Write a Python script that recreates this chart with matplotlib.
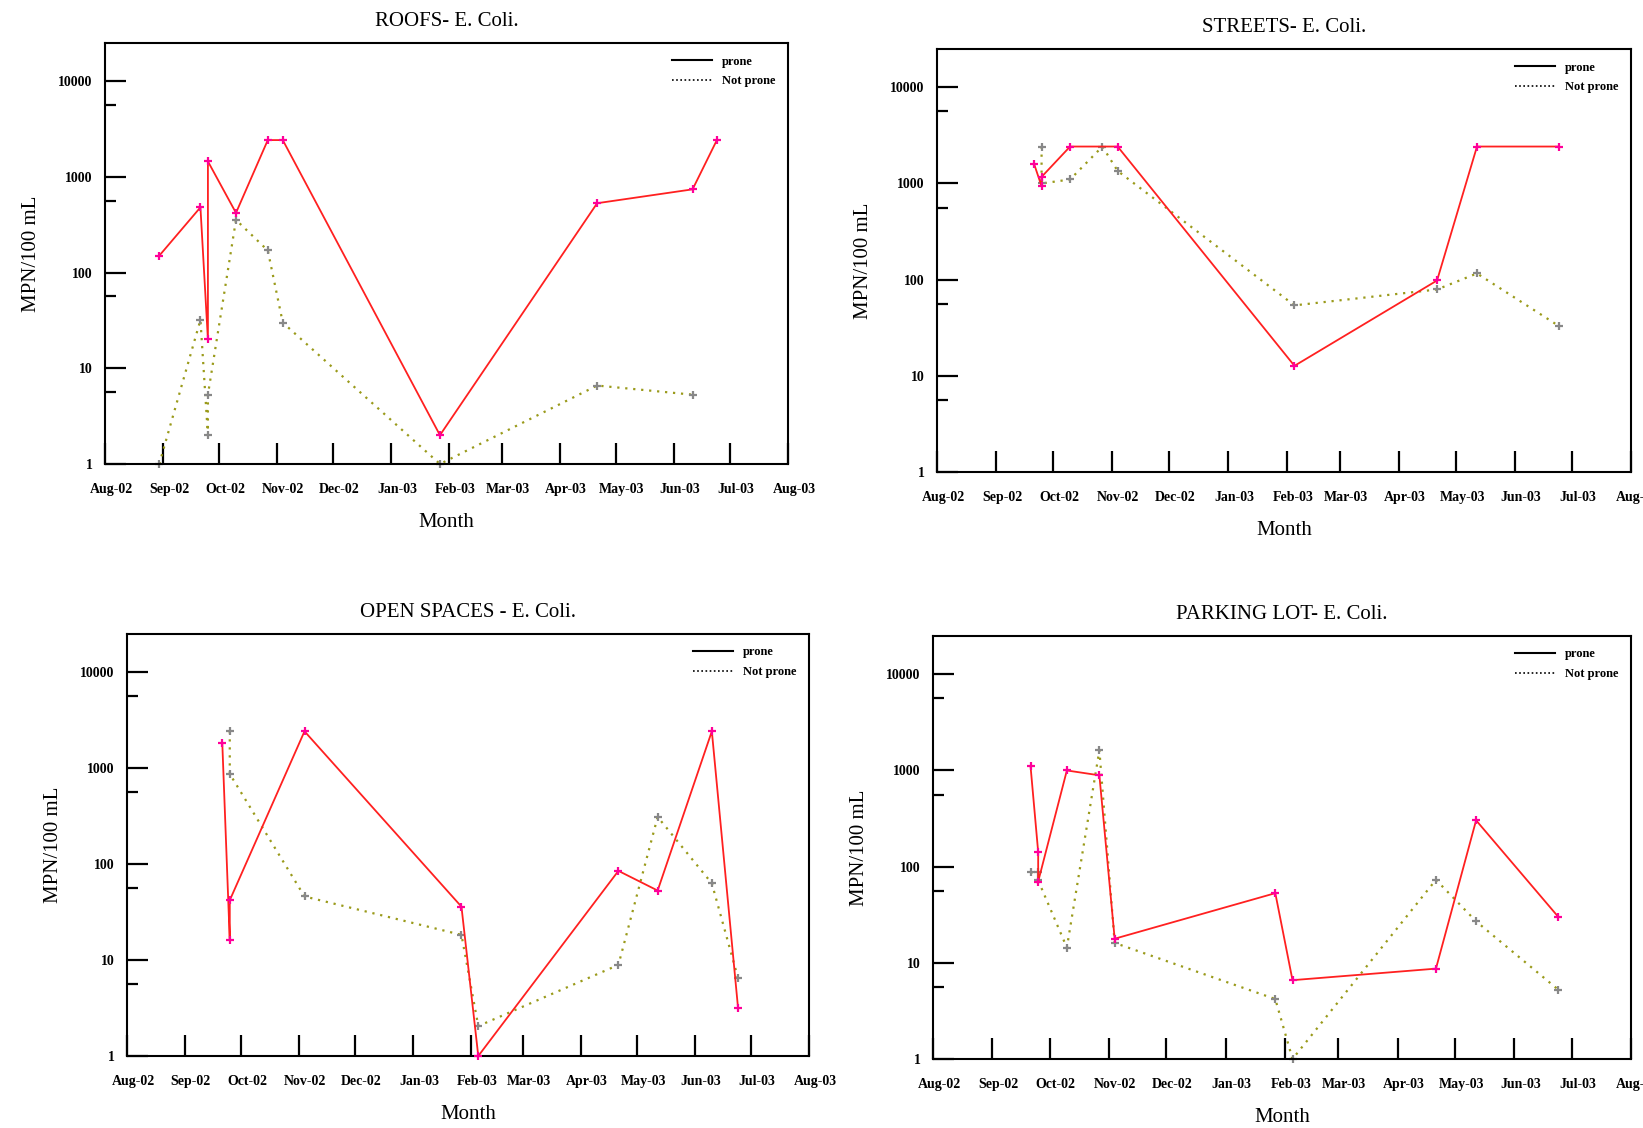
import numpy as np
import matplotlib
matplotlib.use("Agg")
import matplotlib.pyplot as plt
import matplotlib.dates as mdates
import matplotlib.transforms as mtransforms
from matplotlib.ticker import FixedLocator, NullFormatter, FixedFormatter

plt.rcParams['font.family'] = ['Liberation Serif', 'DejaVu Serif']

# ---------------- data ----------------
roofs_prone_dates = ['2002-08-30', '2002-09-21', '2002-09-25', '2002-09-25', '2002-10-10',
                     '2002-10-27', '2002-11-04', '2003-01-27', '2003-04-21', '2003-06-11', '2003-06-24']
roofs_prone_vals = [150, 480, 20, 1450, 420, 2420, 2420, 2, 530, 740, 2420]
roofs_not_dates = ['2002-08-30', '2002-09-21', '2002-09-25', '2002-09-25', '2002-10-10',
                   '2002-10-27', '2002-11-04', '2003-01-27', '2003-04-21', '2003-06-11']
roofs_not_vals = [1, 32, 2.0, 5.3, 355, 170, 30, 1, 6.6, 5.3]

streets_prone_dates = ['2002-09-21', '2002-09-25', '2002-09-25', '2002-10-10', '2002-11-04',
                       '2003-02-05', '2003-04-21', '2003-05-12', '2003-06-24']
streets_prone_vals = [1610, 935, 1170, 2420, 2420, 12.7, 98, 2420, 2420]
streets_not_dates = ['2002-09-25', '2002-09-25', '2002-10-10', '2002-10-27', '2002-11-04',
                     '2003-02-05', '2003-04-21', '2003-05-12', '2003-06-24']
streets_not_vals = [2420, 1000, 1100, 2420, 1350, 54, 79, 116, 33]

open_prone_dates = ['2002-09-21', '2002-09-25', '2002-09-25', '2002-11-04', '2003-01-27',
                    '2003-02-05', '2003-04-21', '2003-05-12', '2003-06-10', '2003-06-24']
open_prone_vals = [1820, 16, 42, 2420, 36, 1, 85, 53, 2420, 3.2]
open_not_dates = ['2002-09-25', '2002-09-25', '2002-11-04', '2003-01-27', '2003-02-05',
                  '2003-04-21', '2003-05-12', '2003-06-10', '2003-06-24']
open_not_vals = [2420, 870, 46, 18.3, 2.05, 8.9, 310, 63, 6.5]

parking_prone_dates = ['2002-09-21', '2002-09-25', '2002-09-25', '2002-10-10', '2002-10-27',
                       '2002-11-04', '2003-01-27', '2003-02-05', '2003-04-21', '2003-05-12', '2003-06-24']
parking_prone_vals = [1110, 142, 70, 1000, 890, 17.8, 53, 6.6, 8.7, 303, 30]
parking_not_dates = ['2002-09-21', '2002-09-25', '2002-09-25', '2002-10-10', '2002-10-27',
                     '2002-11-04', '2003-01-27', '2003-02-05', '2003-04-21', '2003-05-12', '2003-06-24']
parking_not_vals = [87, 87, 72, 14.4, 1620, 16.1, 4.2, 1, 73, 27, 5.25]

titles = ['ROOFS- E. Coli.', 'STREETS- E. Coli.', 'OPEN SPACES - E. Coli.', 'PARKING LOT- E. Coli.']
month_ticks = ['2002-08-01', '2002-09-01', '2002-10-01', '2002-11-01', '2002-12-01', '2003-01-01',
               '2003-02-01', '2003-03-01', '2003-04-01', '2003-05-01', '2003-06-01', '2003-07-01',
               '2003-08-01']
month_labels = ['Aug-02', 'Sep-02', 'Oct-02', 'Nov-02', 'Dec-02', 'Jan-03', 'Feb-03', 'Mar-03',
                'Apr-03', 'May-03', 'Jun-03', 'Jul-03', 'Aug-03']
y_major = [1, 10, 100, 1000, 10000]
y_major_labels = ['1', '10', '100', '1000', '10000']
legend_labels = ['prone', 'Not prone']

# ---------------- plotting ----------------
W, H = 1643, 1128
fig = plt.figure(figsize=(W / 100, H / 100), dpi=100)

# axes boxes in pixels: left, top, right, bottom
boxes = [(105, 43, 788, 464), (937, 49, 1631, 472), (127, 634, 809, 1056), (933, 636, 1631, 1059)]

datasets = [
    (roofs_prone_dates, roofs_prone_vals, roofs_not_dates, roofs_not_vals),
    (streets_prone_dates, streets_prone_vals, streets_not_dates, streets_not_vals),
    (open_prone_dates, open_prone_vals, open_not_dates, open_not_vals),
    (parking_prone_dates, parking_prone_vals, parking_not_dates, parking_not_vals),
]

to_num = lambda ds: mdates.date2num(np.array(ds, dtype='datetime64[D]'))
xticks = to_num(month_ticks)
minor_y = [10 ** (k + 0.75) for k in range(4)]
shift = mtransforms.ScaledTranslation(6 / 100, 0, fig.dpi_scale_trans)

for (l, t, r, b), title, (pd_, pv, nd, nv) in zip(boxes, titles, datasets):
    ax = fig.add_axes([l / W, 1 - b / H, (r - l) / W, (b - t) / H])
    ax.set_yscale('log')
    ax.plot(to_num(pd_), pv, color='#ff2020', lw=1.3, marker='+', ms=6, mew=1.6,
            mec='#ff0099', clip_on=False, zorder=3)
    ax.plot(to_num(nd), nv, color='#9a9a1a', lw=1.6, dashes=(1, 2.6), marker='+', ms=6,
            mew=1.6, mec='#888888', clip_on=False, zorder=2)
    ax.set_xlim(xticks[0], xticks[-1])
    ax.set_ylim(1, 25000)

    ax.xaxis.set_major_locator(FixedLocator(xticks))
    ax.xaxis.set_major_formatter(FixedFormatter(month_labels))
    ax.xaxis.set_minor_locator(FixedLocator([]))
    ax.yaxis.set_major_locator(FixedLocator(y_major))
    ax.yaxis.set_major_formatter(FixedFormatter(y_major_labels))
    ax.yaxis.set_minor_locator(FixedLocator(minor_y))
    ax.yaxis.set_minor_formatter(NullFormatter())

    ax.tick_params(axis='x', which='major', direction='in', length=15, width=1.6, pad=14,
                   labelsize=10)
    ax.tick_params(axis='y', which='major', direction='in', length=15, width=1.6, pad=9,
                   labelsize=10)
    ax.tick_params(axis='y', which='minor', direction='in', length=8, width=1.6)
    for lab in ax.get_xticklabels():
        lab.set_fontweight('bold')
        lab.set_transform(lab.get_transform() + shift)
    for lab in ax.get_yticklabels():
        lab.set_fontweight('bold')
    for s in ax.spines.values():
        s.set_linewidth(1.5)

    ax.set_title(title, fontsize=15, pad=12)
    ax.set_xlabel('Month', fontsize=15, labelpad=12)
    ax.set_ylabel('MPN/100 mL', fontsize=15, labelpad=12)

    h1, = ax.plot([], [], color='black', lw=1.5)
    h2, = ax.plot([], [], color='black', lw=1.2, dashes=(1, 1.5))
    leg = ax.legend([h1, h2], legend_labels, loc='upper right', frameon=False,
                    prop={'weight': 'bold', 'size': 9}, handlelength=3.2,
                    borderaxespad=0.6, labelspacing=0.6)

fig.savefig('out.png', dpi=100)
